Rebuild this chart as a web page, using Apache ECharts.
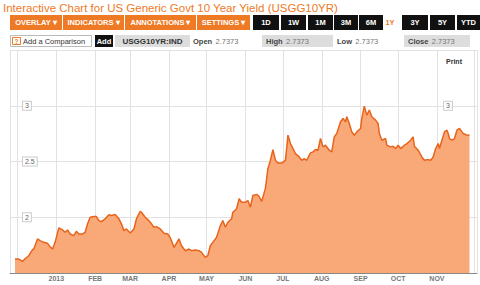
<!DOCTYPE html>
<html><head><meta charset="utf-8">
<script src="https://cdn.jsdelivr.net/npm/echarts@6/dist/echarts.min.js"></script>
<style>html,body{margin:0;padding:0;background:#fff}#c{width:480px;height:285px}</style>
</head><body><div id="c"></div><script>
const dates = [
'2012-11-29','2012-12-02','2012-12-05','2012-12-07','2012-12-10','2012-12-13','2012-12-14','2012-12-17','2012-12-19','2012-12-22','2012-12-25','2012-12-27','2012-12-29','2012-12-31',
'2013-01-03','2013-01-06','2013-01-08','2013-01-10','2013-01-12','2013-01-15','2013-01-17','2013-01-19','2013-01-22','2013-01-24','2013-01-26','2013-01-28','2013-01-31',
'2013-02-02','2013-02-04','2013-02-06','2013-02-09','2013-02-12','2013-02-14','2013-02-17','2013-02-20','2013-02-22','2013-02-24','2013-02-26',
'2013-03-01','2013-03-04','2013-03-06','2013-03-09','2013-03-10','2013-03-13','2013-03-16','2013-03-18','2013-03-20','2013-03-22','2013-03-25','2013-03-28','2013-03-31',
'2013-04-02','2013-04-05','2013-04-09','2013-04-11','2013-04-14','2013-04-17','2013-04-19','2013-04-22','2013-04-25','2013-04-27','2013-04-30',
'2013-05-02','2013-05-04','2013-05-06','2013-05-09','2013-05-12','2013-05-14','2013-05-16','2013-05-18','2013-05-21','2013-05-22','2013-05-25','2013-05-27','2013-05-29',
'2013-06-01','2013-06-03','2013-06-05','2013-06-07','2013-06-10','2013-06-12','2013-06-14','2013-06-17','2013-06-19','2013-06-21','2013-06-23','2013-06-25','2013-06-27','2013-06-30',
'2013-07-03','2013-07-05','2013-07-07','2013-07-09','2013-07-11','2013-07-14','2013-07-16','2013-07-18','2013-07-20','2013-07-23','2013-07-25','2013-07-27','2013-07-29','2013-07-31',
'2013-08-02','2013-08-04','2013-08-07','2013-08-09','2013-08-11','2013-08-13','2013-08-16','2013-08-18','2013-08-20','2013-08-21','2013-08-23','2013-08-25','2013-08-27','2013-08-29',
'2013-09-01','2013-09-02','2013-09-04','2013-09-06','2013-09-08','2013-09-10','2013-09-13','2013-09-15','2013-09-16','2013-09-18','2013-09-21','2013-09-22','2013-09-25','2013-09-27','2013-09-29',
'2013-10-01','2013-10-03','2013-10-06','2013-10-08','2013-10-11','2013-10-13','2013-10-14','2013-10-17','2013-10-20','2013-10-22','2013-10-25','2013-10-27','2013-10-29','2013-10-31',
'2013-11-02','2013-11-03','2013-11-05','2013-11-07','2013-11-09','2013-11-10','2013-11-11','2013-11-13','2013-11-15','2013-11-17','2013-11-19','2013-11-21','2013-11-22','2013-11-25','2013-11-27'
];
const yields = [
1.625,1.625,1.604,1.628,1.655,1.709,1.715,1.805,1.790,1.775,1.766,1.736,1.715,1.775,
1.905,1.886,1.865,1.886,1.850,1.835,1.874,1.850,1.850,1.865,1.941,2.000,2.006,
2.006,1.970,1.961,1.986,2.022,2.015,2.024,1.986,1.941,1.880,1.895,
1.859,1.895,1.986,2.054,2.045,2.000,1.970,1.941,1.910,1.916,1.895,1.856,1.850,
1.817,1.730,1.805,1.745,1.700,1.715,1.700,1.706,1.700,1.685,1.640,
1.655,1.745,1.775,1.820,1.925,1.970,1.910,1.955,1.986,2.045,2.076,2.166,2.135,
2.135,2.150,2.090,2.195,2.205,2.186,2.141,2.259,2.436,2.511,2.607,2.511,2.486,2.486,
2.511,2.736,2.661,2.616,2.571,2.541,2.511,2.526,2.511,2.577,2.586,2.607,2.601,2.706,
2.631,2.646,2.601,2.586,2.721,2.751,2.856,2.886,2.856,2.901,2.841,2.766,2.736,2.766,
2.796,2.886,2.997,2.916,2.961,2.901,2.871,2.841,2.751,2.691,2.706,2.646,2.631,2.637,2.616,
2.646,2.616,2.646,2.661,2.691,2.721,2.637,2.601,2.541,2.511,2.517,2.511,2.541,2.616,
2.661,2.616,2.691,2.766,2.781,2.751,2.706,2.691,2.706,2.781,2.796,2.766,2.751,2.736,2.737
];
const monthTicks = ['2013-01-01','2013-02-01','2013-03-01','2013-04-01','2013-05-01','2013-06-01','2013-07-01','2013-08-01','2013-09-01','2013-10-01','2013-11-01'];
const monthLabels = ['2013','FEB','MAR','APR','MAY','JUN','JUL','AUG','SEP','OCT','NOV'];
const yTickLabels = ['2','2.5','3'];
const quote = {symbol:'USGG10YR:IND', open:'2.7373', high:'2.7373', low:'2.7373', close:'2.7373'};
const titleText = 'Interactive Chart for US Generic Govt 10 Year Yield (USGG10YR)';
const menuButtons = ['OVERLAY \u25BE','INDICATORS \u25BE','ANNOTATIONS \u25BE','SETTINGS \u25BE'];
const rangeButtons = ['1D','1W','1M','3M','6M','1Y','3Y','5Y','YTD'];

const P = echarts.time.parse;
const tickTs = monthTicks.map(s => P(s));
const labelMap = {};
tickTs.forEach((t,i)=>{labelMap[t]=monthLabels[i];});
const seriesData = dates.map((d,i)=>[P(d), yields[i]]);
const DAY = 864e5;

const FONT = 'Liberation Sans, Arial, sans-serif';
const ORANGE = '#EF7A26';
const g = [];
g.push({type:'text', left:3, top:2, style:{text:titleText, fill:ORANGE, font:'11.5px '+FONT}});
const menuX = [[10,62],[63,124],[125,196],[197,250]];
menuButtons.forEach((t,i)=>{
  const [a,b]=menuX[i];
  g.push({type:'rect', shape:{x:a,y:15,width:b-a,height:15}, style:{fill:ORANGE}});
  g.push({type:'text', x:(a+b)/2, y:22.5, style:{text:t, fill:'#fff', font:'bold 7.5px '+FONT, align:'center', verticalAlign:'middle'}});
});
const rangeX = [[253,279],[281,306],[308,333],[334,358],[359,383],[384,400],[402,428],[430,455],[457,480]];
rangeButtons.forEach((t,i)=>{
  const [a,b]=rangeX[i];
  const active = t==='1Y';
  if(!active) g.push({type:'rect', shape:{x:a,y:15,width:b-a,height:15}, style:{fill:'#111'}});
  g.push({type:'text', x:active?a+6:(a+b)/2, y:22.5, style:{text:t, fill:active?ORANGE:'#fff', font:'bold 7.5px '+FONT, align:'center', verticalAlign:'middle'}});
});
g.push({type:'rect', shape:{x:10.5,y:35.5,width:81,height:11}, style:{fill:'#fff', stroke:'#bbb', lineWidth:1}});
g.push({type:'rect', shape:{x:12.5,y:37.5,width:8,height:7}, style:{fill:'#fff', stroke:ORANGE, lineWidth:1}});
g.push({type:'text', x:16.5, y:41, style:{text:'?', fill:ORANGE, font:'bold 6.5px '+FONT, align:'center', verticalAlign:'middle'}});
g.push({type:'text', x:23, y:41, style:{text:'Add a Comparison', fill:'#333', font:'7.5px '+FONT, verticalAlign:'middle'}});
g.push({type:'rect', shape:{x:95,y:35,width:18,height:12}, style:{fill:'#111'}});
g.push({type:'text', x:104, y:41, style:{text:'Add', fill:'#fff', font:'bold 7.5px '+FONT, align:'center', verticalAlign:'middle'}});
g.push({type:'rect', shape:{x:115,y:35,width:75,height:12}, style:{fill:'#ddd'}});
g.push({type:'text', x:152.5, y:41, style:{text:quote.symbol, fill:'#333', font:'bold 8px '+FONT, align:'center', verticalAlign:'middle'}});
function quoteText(x, label, val){
  g.push({type:'text', x:x, y:41, style:{text:'{b|'+label+'} {v|'+val+'}', verticalAlign:'middle',
    rich:{b:{fill:'#444', font:'bold 7.5px '+FONT}, v:{fill:'#777', font:'7.5px '+FONT}}}});
}
quoteText(193,'Open',quote.open);
g.push({type:'rect', shape:{x:262,y:35,width:71,height:12}, style:{fill:'#ddd'}});
quoteText(266,'High',quote.high);
quoteText(337,'Low',quote.low);
g.push({type:'rect', shape:{x:404,y:35,width:66,height:12}, style:{fill:'#ddd'}});
quoteText(408,'Close',quote.close);
g.push({type:'text', x:454, y:61, style:{text:'Print', fill:'#333', font:'bold 7px '+FONT, align:'center', verticalAlign:'middle'}});

function xLabel(v){
  if (labelMap[v]) return labelMap[v];
  const d = new Date(v);
  if (d.getDate()===1 && d.getFullYear()===2013) return monthLabels[d.getMonth()] || '';
  return '';
}
const yLabelStyle = {color:'#666', fontSize:7, fontFamily:FONT, backgroundColor:'#fff', borderColor:'#ccc', borderWidth:1, padding:[1,2,0,2], inside:true};
const chart = echarts.init(document.getElementById('c'), null, {renderer:'svg'});
chart.setOption({
  animation:false,
  grid:{left:10, right:3, top:50, bottom:12, containLabel:false},
  graphic:g,
  xAxis:{type:'time', min:P('2012-11-25'), max:P('2013-12-03'),
    minInterval:28*DAY, maxInterval:31*DAY,
    axisLine:{show:true, lineStyle:{color:'#888', width:1}},
    axisTick:{show:false},
    axisLabel:{formatter:xLabel, color:'#777', fontSize:7, fontWeight:'bold', fontFamily:FONT, margin:2, hideOverlap:false},
    splitLine:{show:true, lineStyle:{color:'#e2e2e2', width:1}}},
  yAxis:[
    {type:'value', min:1.5, max:3.5, interval:0.5, position:'left',
     axisLine:{show:false}, axisTick:{show:false},
     axisLabel:Object.assign({}, yLabelStyle, {margin:13, showMinLabel:false, showMaxLabel:false, formatter:v=>yTickLabels.indexOf(String(v))>=0?String(v):''}),
     splitLine:{show:true, lineStyle:{color:'#e2e2e2', width:1}}},
    {type:'value', min:1.5, max:3.5, interval:0.5, position:'right',
     axisLine:{show:false}, axisTick:{show:false},
     axisLabel:Object.assign({}, yLabelStyle, {margin:25, showMinLabel:false, showMaxLabel:false, formatter:v=>yTickLabels.indexOf(String(v))>=0?String(v):''}),
     splitLine:{show:false}}
  ],
  series:[{type:'line', data:seriesData, showSymbol:false, symbol:'none',
    lineStyle:{color:'#E8641C', width:1.5},
    areaStyle:{color:'#F9A877', opacity:1, origin:'start'}}]
});
</script></body></html>
